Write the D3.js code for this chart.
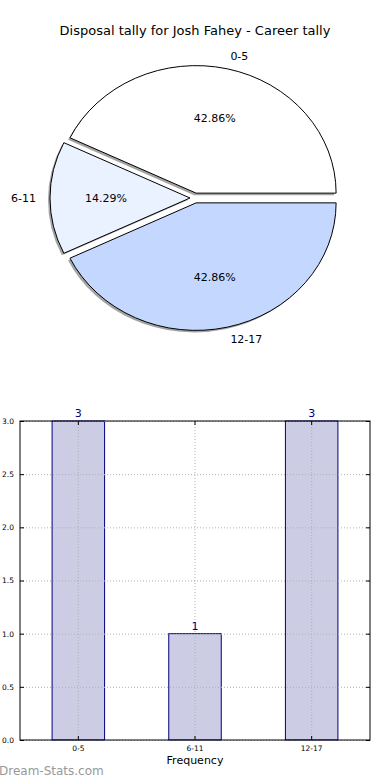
<!DOCTYPE html>
<html>
  <head>
    <meta charset="UTF-8">
    <script src="https://d3js.org/d3.v7.min.js"></script>
    <style>
      body { margin: 0; background: #fff; }
      svg { display: block; font-family: "DejaVu Sans", sans-serif; }
      .grid line { stroke: #b0b0b0; stroke-dasharray: 1,2; }
      .grid .domain { stroke: none; }
    </style>
    <title>Disposal tally for Josh Fahey - Career tally</title>
  </head>
  <body>
    <svg id="svg" width="390" height="780"></svg>
    <script>
      // data
      const categories = ["0-5", "6-11", "12-17"];
      const counts = [3, 1, 3];
      const sliceColors = ["#ffffff", "#ebf2ff", "#c4d8ff"];
      const yTicks = [0, 0.5, 1.0, 1.5, 2.0, 2.5, 3.0];

      const svg = d3.select("svg#svg");
      const width = +svg.attr("width");

      // ************ pie ************
      svg.append("text")
        .attr("x", width / 2)
        .attr("y", 35)
        .attr("text-anchor", "middle")
        .style("font-size", "13px")
        .text("Disposal tally for Josh Fahey - Career tally");

      const cx = 195, cy = 198, rx = 140, ry = 127.5, explode = 5;
      const total = d3.sum(counts);

      // matplotlib style: start at east, go counterclockwise
      const pie = d3.pie().sort(null)
        .startAngle(Math.PI / 2)
        .endAngle(Math.PI / 2 - 2 * Math.PI);
      const arcs = pie(counts);
      const arcGen = d3.arc().innerRadius(0).outerRadius(rx);

      const pieG = svg.append("g")
        .attr("transform", "translate(" + cx + "," + cy + ") scale(1," + (ry / rx) + ")");

      const mid = d => (d.startAngle + d.endAngle) / 2;
      const off = d => [Math.sin(mid(d)) * explode, -Math.cos(mid(d)) * explode * rx / ry];

      // shadows
      pieG.selectAll("path.shadow")
        .data(arcs)
        .enter()
        .append("path")
        .attr("class", "shadow")
        .attr("d", arcGen)
        .attr("fill", "#999")
        .attr("opacity", 0.9)
        .attr("transform", d => "translate(" + (off(d)[0] - 2) + "," + (off(d)[1] + 2.2) + ")");

      pieG.selectAll("path.slice")
        .data(arcs)
        .enter()
        .append("path")
        .attr("class", "slice")
        .attr("d", arcGen)
        .attr("fill", (d, i) => sliceColors[i])
        .attr("stroke", "#000")
        .attr("stroke-width", 1)
        .attr("vector-effect", "non-scaling-stroke")
        .attr("transform", d => "translate(" + off(d)[0] + "," + off(d)[1] + ")");

      // labels (screen coords)
      const pt = (d, f) => {
        const m = mid(d);
        return [cx + Math.sin(m) * explode + Math.sin(m) * rx * f,
                cy - Math.cos(m) * explode - Math.cos(m) * ry * f];
      };

      svg.selectAll("text.pct")
        .data(arcs)
        .enter()
        .append("text")
        .attr("class", "pct")
        .attr("x", d => pt(d, 0.6)[0])
        .attr("y", d => pt(d, 0.6)[1])
        .attr("dy", "0.35em")
        .attr("text-anchor", "middle")
        .style("font-size", "11px")
        .text(d => (d.value / total * 100).toFixed(2) + "%");

      svg.selectAll("text.lbl")
        .data(arcs)
        .enter()
        .append("text")
        .attr("class", "lbl")
        .attr("x", d => pt(d, 1.1)[0])
        .attr("y", d => pt(d, 1.1)[1])
        .attr("dy", "0.35em")
        .attr("text-anchor", d => Math.sin(mid(d)) > 0 ? "start" : "end")
        .style("font-size", "11px")
        .text((d, i) => categories[i]);

      // ************ bars ************
      const plotLeft = 20, plotRight = 370, plotTop = 421, plotBottom = 740;

      const x = d3.scaleBand().domain(categories).range([plotLeft, plotRight])
        .paddingInner(0.55).paddingOuter(0.275);
      const y = d3.scaleLinear().domain([0, 3]).range([plotBottom, plotTop]);

      svg.selectAll("rect.bar")
        .data(counts)
        .enter()
        .append("rect")
        .attr("class", "bar")
        .attr("x", (d, i) => x(categories[i]))
        .attr("y", d => y(d))
        .attr("width", x.bandwidth())
        .attr("height", d => plotBottom - y(d))
        .attr("fill", "#ccccE5")
        .attr("stroke", "#000080")
        .attr("stroke-width", 1);

      // gridlines drawn over the bars
      svg.append("g")
        .attr("class", "grid")
        .attr("transform", "translate(" + plotLeft + ",0)")
        .call(d3.axisLeft(y).tickValues(yTicks).tickFormat("").tickSize(-(plotRight - plotLeft)));
      svg.append("g")
        .attr("class", "grid")
        .attr("transform", "translate(0," + plotBottom + ")")
        .call(d3.axisBottom(x).tickFormat("").tickSize(-(plotBottom - plotTop)));

      svg.selectAll("text.val")
        .data(counts)
        .enter()
        .append("text")
        .attr("class", "val")
        .attr("x", (d, i) => x(categories[i]) + x.bandwidth() / 2)
        .attr("y", d => y(d) - 4)
        .attr("text-anchor", "middle")
        .attr("fill", "#000080")
        .style("font-size", "11px")
        .text(d => d);

      // frame
      svg.append("rect")
        .attr("x", plotLeft).attr("y", plotTop)
        .attr("width", plotRight - plotLeft).attr("height", plotBottom - plotTop)
        .attr("fill", "none").attr("stroke", "#000").attr("stroke-width", 1);

      // axes with inward ticks
      const yAxis = svg.append("g")
        .attr("transform", "translate(" + plotLeft + ",0)")
        .call(d3.axisLeft(y).tickValues(yTicks).tickFormat(d3.format(".1f")).tickSize(-4).tickPadding(6));
      yAxis.select(".domain").remove();
      yAxis.selectAll("text").style("font-size", "7.5px").attr("font-family", "DejaVu Sans");

      const yAxisR = svg.append("g")
        .attr("transform", "translate(" + plotRight + ",0)")
        .call(d3.axisRight(y).tickValues(yTicks).tickFormat("").tickSize(-4));
      yAxisR.select(".domain").remove();

      const xAxis = svg.append("g")
        .attr("transform", "translate(0," + plotBottom + ")")
        .call(d3.axisBottom(x).tickSize(-4).tickPadding(6));
      xAxis.select(".domain").remove();
      xAxis.selectAll("text").style("font-size", "7.5px").attr("font-family", "DejaVu Sans");

      const xAxisT = svg.append("g")
        .attr("transform", "translate(0," + plotTop + ")")
        .call(d3.axisTop(x).tickFormat("").tickSize(-4));
      xAxisT.select(".domain").remove();

      svg.append("text")
        .attr("x", (plotLeft + plotRight) / 2)
        .attr("y", 764)
        .attr("text-anchor", "middle")
        .style("font-size", "11px")
        .text("Frequency");

      svg.append("text")
        .attr("x", -1)
        .attr("y", 775)
        .attr("fill", "#999")
        .style("font-size", "12px")
        .text("Dream-Stats.com");
    </script>
  </body>
</html>
